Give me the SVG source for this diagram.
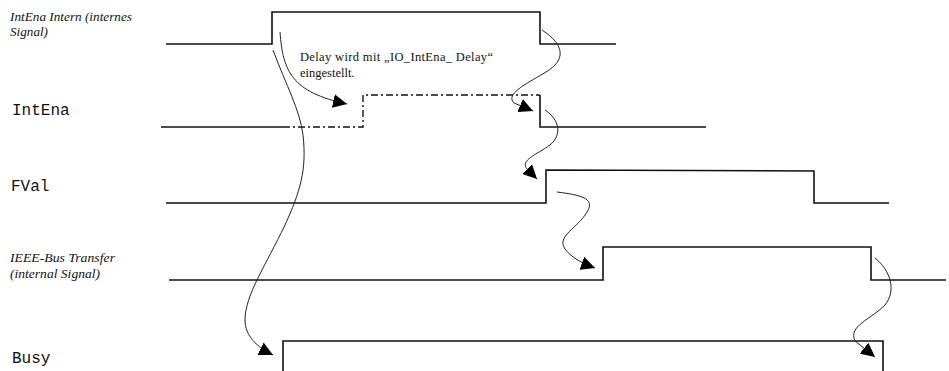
<svg xmlns="http://www.w3.org/2000/svg" width="949" height="371" viewBox="0 0 949 371">
<style>
.sig{fill:none;stroke:#111;stroke-width:1.6}
.dd{fill:none;stroke:#111;stroke-width:1.4;stroke-dasharray:7 3 2 3}
.con{fill:none;stroke:#222;stroke-width:1;marker-end:url(#ah)}
.lbl{font-family:"Liberation Serif","Times New Roman",serif;font-style:italic;font-size:11.5px;fill:#111}
.mono{font-family:"Liberation Mono","Courier New",monospace;font-size:16px;fill:#111}
.note{font-family:"Liberation Serif","Times New Roman",serif;font-size:12.5px;fill:#111}
</style>
<defs>
<marker id="ah" markerUnits="userSpaceOnUse" markerWidth="16" markerHeight="14" refX="14" refY="7" orient="auto">
<path d="M0,0 L14,7 L0,14 z" fill="#000"/>
</marker>
</defs>
<rect width="949" height="371" fill="#fff"/>
<g id="intena-intern">
<text class="lbl" x="10" y="21" textLength="122" lengthAdjust="spacingAndGlyphs">IntEna Intern (internes</text>
<text class="lbl" x="10" y="36" textLength="38" lengthAdjust="spacingAndGlyphs">Signal)</text>
<polyline class="sig" points="166,44 272,44 272,12 540,12 540,44 616,44"/>
</g>
<g id="intena">
<text class="mono" x="12" y="115">IntEna</text>
<polyline class="sig" points="161,127 283,127"/>
<polyline class="dd" points="283,127 363,127 363,95 540,95"/>
<polyline class="sig" points="540,95 540,127 706,127"/>
</g>
<g id="fval">
<text class="mono" x="11" y="191">FVal</text>
<polyline class="sig" points="166,203 546,203 546,170 814,171 814,203 889,203"/>
</g>
<g id="ieee">
<text class="lbl" x="10" y="262" textLength="105" lengthAdjust="spacingAndGlyphs">IEEE-Bus Transfer</text>
<text class="lbl" x="10" y="278" textLength="90" lengthAdjust="spacingAndGlyphs">(internal Signal)</text>
<polyline class="sig" points="169,280 603,280 603,247 871,247 871,280 946,280"/>
</g>
<g id="busy">
<text class="mono" x="12" y="363">Busy</text>
<polyline class="sig" points="283,372 283,341 883,341 883,372"/>
</g>
<g id="note">
<text class="note" x="300" y="61" textLength="193">Delay wird mit „IO_IntEna_ Delay“</text>
<text class="note" x="300" y="77">eingestellt.</text>
</g>
<g id="connectors">
<path class="con" d="M280,32 C283,72 292,92 347,104"/>
<path class="con" d="M273,50 C286,85 300,110 303,135 C307,170 300,192 285,225 C266,265 245,295 245,320 C245,336 257,347 273,355"/>
<path class="con" d="M542,30 C565,45 566,60 546,72 C526,84 505,94 514,103 L533,111"/>
<path class="con" d="M545,110 C560,120 562,135 550,145 C536,155 520,160 527,169 L537,179"/>
<path class="con" d="M557,192 C580,195 596,198 587,212 C578,228 556,236 565,249 C571,257 581,263 595,268"/>
<path class="con" d="M875,258 C890,270 897,290 885,305 C870,320 848,326 855,341 L875,357"/>
</g>
</svg>
